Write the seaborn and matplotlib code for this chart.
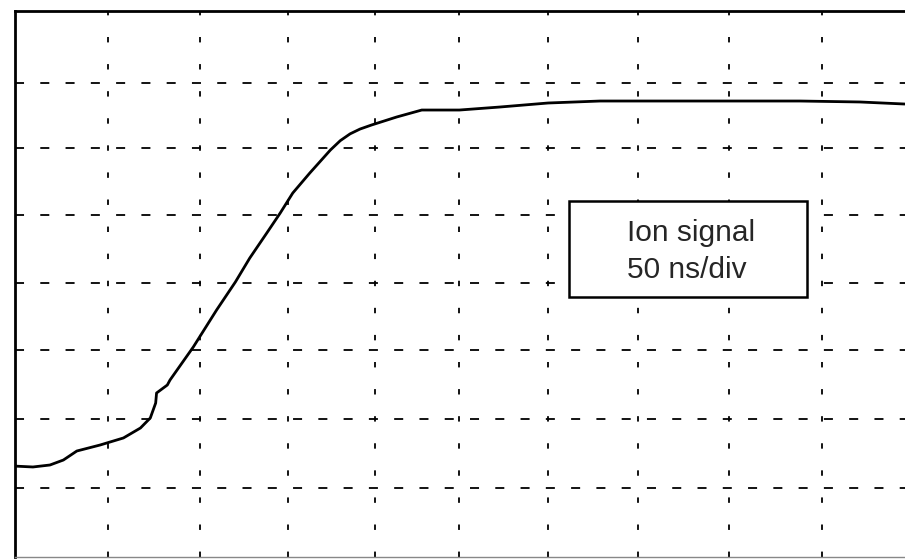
import matplotlib
matplotlib.use("Agg")
import matplotlib.pyplot as plt
import seaborn as sns
import pandas as pd
from matplotlib.patches import Rectangle

# Curve, in screen divisions (x: 50 ns/div, y: arbitrary)
time_div = [-0.02, 0.20, 0.39, 0.54, 0.69, 0.95, 1.21, 1.40, 1.51, 1.57, 1.58, 1.70,
            1.73, 1.99, 2.25, 2.46, 2.62, 2.81, 2.96, 3.10, 3.29, 3.52, 3.63, 3.74, 3.85, 3.98,
            4.26, 4.54, 4.96, 5.41, 5.95, 6.53, 7.65, 8.76, 9.43, 9.93]
signal_div = [1.333, 1.319, 1.348, 1.421, 1.553, 1.641, 1.744, 1.890, 2.037, 2.256, 2.403, 2.520,
              2.593, 3.077, 3.619, 4.030, 4.380, 4.747, 5.040, 5.333, 5.626, 5.963, 6.100, 6.200,
              6.270, 6.330, 6.447, 6.549, 6.549, 6.593, 6.652, 6.681, 6.681, 6.681, 6.667, 6.637]

# hand-ruled graticule positions (divisions)
x_grid = [1.04, 2.06, 3.05, 4.02, 4.96, 5.95, 6.95, 7.97, 9.01]
y_grid = [1.01, 2.02, 3.03, 4.01, 5.01, 5.99, 6.95]
label_lines = ["Ion signal", "50 ns/div"]

sns.set_style("white")
plt.rcParams['font.family'] = ['Liberation Sans', 'DejaVu Sans']

fig = plt.figure(figsize=(9.05, 5.59), dpi=100)
ax = fig.add_axes([15 / 905, 2 / 559, 890 / 905, 546 / 559])

df = pd.DataFrame({"t": time_div, "s": signal_div})
sns.lineplot(data=df, x="t", y="s", sort=False, color="black", linewidth=2.0, ax=ax, zorder=3)
for ln in ax.lines:
    ln.set_solid_joinstyle("round")
    ln.set_solid_capstyle("round")

ax.set_xlim(0, 890 / 89.6)
ax.set_ylim(0, 8)
ax.set_xticks(x_grid)
ax.set_yticks(y_grid)
ax.tick_params(length=0, labelbottom=False, labelleft=False)
ax.set_xlabel("")
ax.set_ylabel("")

ax.xaxis.grid(True, color="black", linestyle=(0, (3, 12)), linewidth=1.3)
ax.yaxis.grid(True, color="black", linestyle=(0, (5, 9)), linewidth=1.3)
ax.set_axisbelow(True)

ax.spines["right"].set_visible(False)
ax.spines["top"].set_color("black")
ax.spines["top"].set_linewidth(2.0)
ax.spines["left"].set_color("black")
ax.spines["left"].set_linewidth(2.0)
ax.spines["bottom"].set_color("#888888")
ax.spines["bottom"].set_linewidth(1.0)

# label box
box = Rectangle((6.18, 3.81), 2.66, 1.41, facecolor="white", edgecolor="black",
                linewidth=1.8, zorder=4)
ax.add_patch(box)
ax.text(7.54, 4.75, label_lines[0], ha="center", va="center", fontsize=21.5, zorder=5)
ax.text(7.50, 4.21, label_lines[1], ha="center", va="center", fontsize=21.5, zorder=5)

fig.savefig("out.png", dpi=100)
